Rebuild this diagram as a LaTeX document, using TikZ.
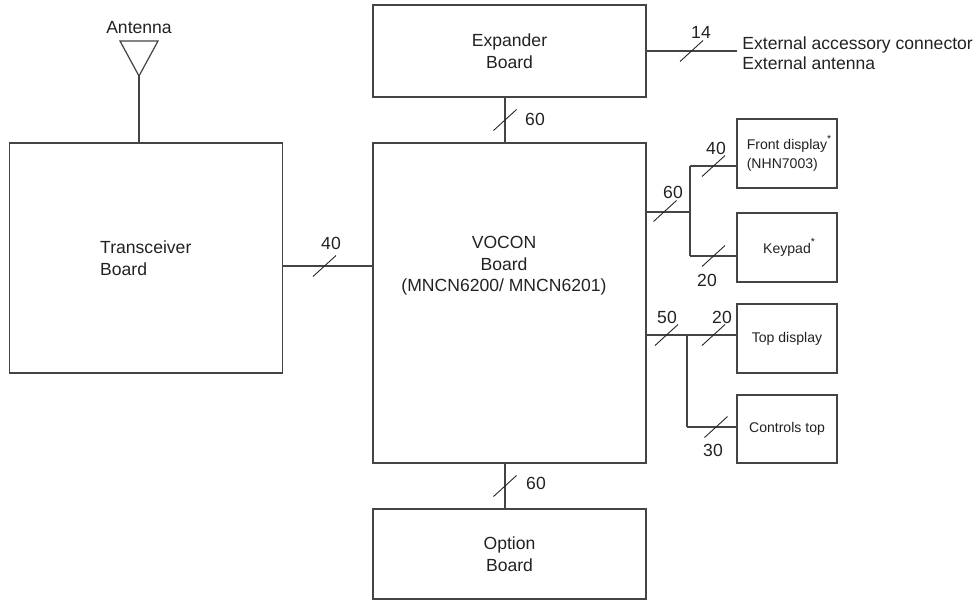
\documentclass[tikz,border=0pt]{standalone}
\usepackage{fontspec}
\setmainfont{Liberation Sans}
\usetikzlibrary{calc}
\definecolor{ink}{HTML}{222222}
\definecolor{edge}{HTML}{444444}
\begin{document}
\begin{tikzpicture}[x=0.02cm,y=-0.02cm,
  box/.style={draw=edge, line width=0.7pt, inner sep=0pt, outer sep=0pt,
    align=center, text=ink, font=\fontsize{10}{12.2}\selectfont},
  bigbox/.style={box, minimum width=5.46cm},
  smallbox/.style={box, minimum width=2cm, minimum height=1.38cm,
    font=\fontsize{8}{10.8}\selectfont},
  txt/.style={text=ink, inner sep=0pt, font=\fontsize{10}{12.2}\selectfont},
  lbl/.style={txt},
  wire/.style={draw=edge, line width=0.7pt},
  slashline/.style={draw=ink, line width=0.5pt},
  bus/.pic={\draw[slashline] (-11.5,10.5) -- (11.5,-10.5);}
]
\useasboundingbox (0,0) rectangle (979,600);

% boxes
\node[bigbox, minimum height=4.6cm, align=left] (trx) at (145.8,258) {Transceiver\\Board};
\node[bigbox, minimum height=1.84cm] (exp) at (509.5,51) {Expander\\Board};
\node[bigbox, minimum height=6.4cm] (voc) at (509.5,303) {};
\node[txt, align=center] (voctxt) at (504,266) {VOCON\\Board\\(MNCN6200/ MNCN6201)};
\node[bigbox, minimum height=1.8cm] (opt) at (509.5,554) {Option\\Board};

\node[smallbox, align=left] (front) at (787,153.5) {Front display\rlap{\raisebox{0.35ex}{\textsuperscript{*}}}\\(NHN7003)};
\node[smallbox] (key) at (787,247.5) {Keypad\rlap{\raisebox{0.35ex}{\textsuperscript{*}}}};
\node[smallbox] (topd) at (787,338.5) {Top display};
\node[smallbox, minimum height=1.36cm] (ctl) at (787,429) {Controls top};

% antenna
\node[txt] (anttxt) at (139,28) {Antenna};
\draw[wire] (120,41) -- (158,41) -- (139,76) -- cycle;
\coordinate (antTip) at (139,76);
\draw[wire] (antTip) -- (antTip |- trx.north);

% transceiver - vocon
\coordinate (tv) at (0,266);
\draw[wire] (trx.east |- tv) -- (voc.west |- tv);
\pic at (324.5,266) {bus};
\node[lbl] (l40a) at (331,243) {40};

% expander - vocon
\coordinate (ev) at (505,0);
\draw[wire] (exp.south -| ev) -- (voc.north -| ev);
\pic at (505,120) {bus};
\node[lbl] (l60a) at (535,119) {60};

% vocon - option
\draw[wire] (voc.south -| ev) -- (opt.north -| ev);
\pic at (505,486) {bus};
\node[lbl] (l60c) at (536,483) {60};

% expander - external
\coordinate (extEnd) at (737,51);
\draw[wire] (exp.east |- extEnd) -- (extEnd);
\pic at (691.5,51) {bus};
\node[lbl] (l14) at (701,32) {14};
\node[txt, anchor=west, align=left, font=\fontsize{10}{11.3}\selectfont] (exttxt) at (742,53)
  {External accessory connector\\External antenna};

% vocon - front display / keypad
\coordinate (j1) at (690,212);
\coordinate (fy) at (690,166);
\coordinate (ky) at (690,256);
\draw[wire] (voc.east |- j1) -- (j1);
\draw[wire] (fy) -- (ky);
\draw[wire] (fy) -- (fy -| front.west);
\draw[wire] (ky) -- (ky -| key.west);
\pic at (665,211) {bus};
\node[lbl] (l60b) at (673,192) {60};
\pic at (713.5,166) {bus};
\node[lbl] (l40b) at (716,148) {40};
\pic at (713.5,256) {bus};
\node[lbl] (l20a) at (707,280) {20};

% vocon - top display / controls top
\coordinate (j2) at (687,335);
\coordinate (cy) at (687,427);
\draw[wire] (voc.east |- j2) -- (j2 -| topd.west);
\draw[wire] (j2) -- (cy);
\draw[wire] (cy) -- (cy -| ctl.west);
\pic at (666.5,335) {bus};
\node[lbl] (l50) at (667,317) {50};
\pic at (713.5,335) {bus};
\node[lbl] (l20b) at (722,317) {20};
\pic at (716,427) {bus};
\node[lbl] (l30) at (713,450) {30};
\end{tikzpicture}
\end{document}
